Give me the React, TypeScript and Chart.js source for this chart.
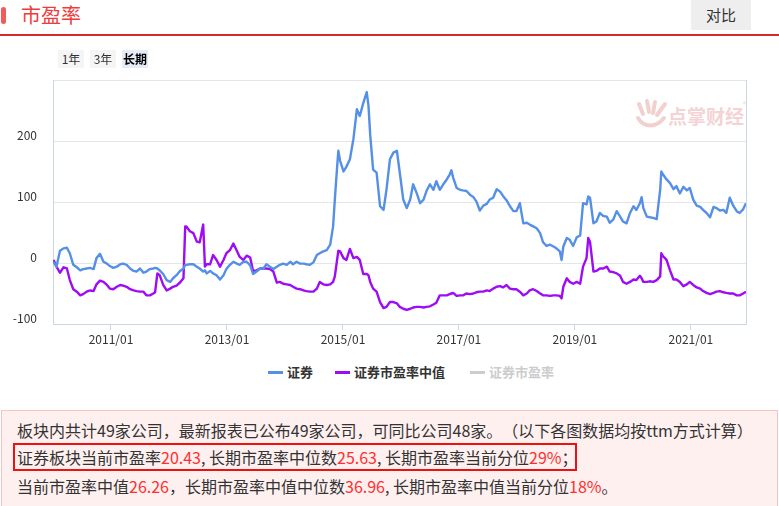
import React, { useEffect, useRef } from 'react';
import { Chart, registerables } from 'chart.js';

Chart.register(...registerables);

// ---- data (decimal years) ----
const dates = [
  2010.01, 2010.06, 2010.12, 2010.18, 2010.24, 2010.29, 2010.35, 2010.41, 2010.47, 2010.52,
  2010.58, 2010.64, 2010.70, 2010.75, 2010.81, 2010.87, 2010.93, 2010.98, 2011.04, 2011.10,
  2011.16, 2011.21, 2011.27, 2011.33, 2011.39, 2011.44, 2011.50, 2011.56, 2011.61, 2011.67,
  2011.73, 2011.76, 2011.80, 2011.84, 2011.90, 2011.96, 2012.02, 2012.07, 2012.13, 2012.19,
  2012.25, 2012.28, 2012.30, 2012.36, 2012.42, 2012.48, 2012.53, 2012.59, 2012.62, 2012.65,
  2012.71, 2012.76, 2012.82, 2012.88, 2012.94, 2012.99, 2013.05, 2013.11, 2013.17, 2013.22,
  2013.28, 2013.34, 2013.40, 2013.45, 2013.51, 2013.57, 2013.63, 2013.68, 2013.74, 2013.80,
  2013.86, 2013.91, 2013.97, 2014.03, 2014.09, 2014.14, 2014.20, 2014.26, 2014.32, 2014.37,
  2014.43, 2014.49, 2014.55, 2014.60, 2014.66, 2014.72, 2014.78, 2014.83, 2014.86, 2014.89,
  2014.92, 2014.95, 2015.01, 2015.06, 2015.12, 2015.18, 2015.24, 2015.29, 2015.35, 2015.41,
  2015.44, 2015.47, 2015.52, 2015.58, 2015.64,
  2015.70, 2015.75, 2015.81, 2015.87, 2015.93, 2015.98, 2016.04, 2016.10, 2016.16, 2016.21,
  2016.27, 2016.33, 2016.39, 2016.44, 2016.50, 2016.56, 2016.61, 2016.67, 2016.73, 2016.79,
  2016.84, 2016.87, 2016.90, 2016.96, 2017.02, 2017.07, 2017.13, 2017.19, 2017.25, 2017.30,
  2017.36, 2017.42, 2017.48, 2017.53, 2017.59, 2017.65, 2017.71, 2017.76, 2017.82, 2017.88,
  2017.94, 2017.99, 2018.05, 2018.11, 2018.17, 2018.22, 2018.28, 2018.34, 2018.40, 2018.45,
  2018.51, 2018.57, 2018.63, 2018.68, 2018.74, 2018.77, 2018.80, 2018.86, 2018.91, 2018.97,
  2019.03, 2019.09, 2019.14, 2019.20, 2019.23, 2019.26, 2019.32, 2019.37, 2019.43, 2019.49,
  2019.55, 2019.60, 2019.66, 2019.72, 2019.78, 2019.83, 2019.89, 2019.95, 2020.01, 2020.06,
  2020.12, 2020.15, 2020.18, 2020.24, 2020.29, 2020.35, 2020.41, 2020.47, 2020.49, 2020.52,
  2020.58, 2020.64, 2020.70, 2020.75, 2020.81, 2020.87, 2020.93, 2020.98, 2021.04, 2021.10,
  2021.16, 2021.21, 2021.27, 2021.33, 2021.39, 2021.44, 2021.50, 2021.56, 2021.61, 2021.67,
  2021.73, 2021.79, 2021.84, 2021.90, 2021.95,
];

// 证券
const securitiesPE = [
  2, -6, 20, 24, 25, 16, -3, -7, -12, -10,
  -9, -8, -10, 8, 15, 2, -1, -5, -8, -6,
  -2, -1, -3, -9, -13, -14, -9, -16, -14, -10,
  -9, -8, -9, -12, -18, -28, -31, -25, -20, -13,
  -9, -3, -3, -2, -2, -6, -9, -14, -12, -17,
  -13, -17, -20, -27, -20, -10, -3, 2, -1, -3,
  2, 2, -4, -18, -14, -9, -9, -2, -6, -10,
  -6, -3, -1, -3, 2, -2, 2, -1, -1, -2,
  -3, 1, 13, 16, 19, 21, 30, 60, 104, 145,
  184, 168, 150, 158, 170, 203, 252, 241, 262, 280,
  258, 210, 153, 148, 93,
  87, 120, 170, 181, 184, 148, 104, 90, 104, 129,
  115, 98, 104, 118, 129, 120, 134, 120, 129, 137,
  145, 152, 140, 123, 120, 119, 118, 112, 108, 101,
  86, 94, 97, 104, 107, 121, 117, 110, 103, 93,
  85, 85, 98, 65, 66, 63, 60, 57, 49, 34,
  28, 30, 27, 24, 19, 5, 27, 41, 38, 28,
  42, 45, 98, 96, 109, 107, 65, 68, 82, 77,
  76, 66, 71, 85, 76, 68, 65, 82, 93, 87,
  98, 108, 90, 76, 75, 74, 72, 120, 150, 145,
  137, 131, 121, 126, 114, 125, 119, 123, 104, 94,
  92, 87, 82, 75, 92, 90, 86, 87, 82, 107,
  94, 85, 82, 88, 98,
];

// 证券市盈率中值
const medianPE = [
  5, -6, -16, -7, -9, -28, -43, -47, -53, -51,
  -47, -45, -46, -35, -29, -31, -36, -42, -43, -39,
  -36, -37, -39, -43, -45, -46, -47, -47, -53, -53,
  -50, -48, -17, -20, -36, -45, -42, -39, -37, -32,
  -25, 60, 60, 52, 49, 35, 34, 63, -6, -2,
  -2, 13, 5, -6, 5, 16, 21, 32, 20, 10,
  5, 12, 9, -13, -12, -9, -9, -9, -10, -14,
  -32, -31, -34, -35, -36, -39, -42, -43, -45, -46,
  -47, -47, -42, -31, -35, -36, -35, -31, -22, -1,
  20, 19, 8, 5, 23, 8, 10, 5, -18, -18,
  -20, -31, -42, -47, -64,
  -74, -72, -64, -64, -66, -72, -75, -77, -75, -73,
  -72, -72, -73, -72, -71, -68, -65, -53, -53, -53,
  -51, -50, -49, -54, -53, -53, -50, -51, -50, -48,
  -47, -47, -45, -46, -42, -39, -38, -40, -36, -42,
  -43, -43, -47, -53, -50, -45, -43, -46, -50, -53,
  -53, -54, -53, -53, -54, -58, -39, -25, -31, -34,
  -31, -34, -6, 8, 41, 35, -14, -13, -9, -9,
  -6, -14, -15, -17, -21, -31, -34, -31, -27, -28,
  -21, -25, -31, -31, -30, -31, -28, -22, 16, 11,
  5, -12, -27, -27, -31, -38, -35, -31, -36, -40,
  -42, -46, -49, -51, -49, -47, -46, -48, -49, -50,
  -50, -53, -53, -50, -47,
];

const xTickYears = [2011, 2013, 2015, 2017, 2019, 2021];
const yTickValues = [-100, 0, 100, 200, 300];
const legendNames = ['证券', '证券市盈率中值', '证券市盈率'];
const legendColors = ['#5590e6', '#9d0cf5', '#cccccc'];
const rangeTabs = ['1年', '3年', '长期'];

const FONT = '"Noto Sans CJK SC", "Noto Sans", sans-serif';

export default function App() {
  const canvasRef = useRef<HTMLCanvasElement | null>(null);

  useEffect(() => {
    document.body.style.margin = '0';
    const canvas = canvasRef.current;
    if (!canvas) return;
    Chart.defaults.font.family = FONT;

    const rightBorder = {
      id: 'rightBorder',
      beforeDatasetsDraw(chart: any) {
        const { ctx, chartArea } = chart;
        ctx.save();
        ctx.strokeStyle = '#ccd6eb';
        ctx.lineWidth = 1;
        ctx.beginPath();
        ctx.moveTo(Math.round(chartArea.right) + 0.5, chartArea.top);
        ctx.lineTo(Math.round(chartArea.right) + 0.5, chartArea.bottom);
        ctx.stroke();
        ctx.restore();
      },
    };

    const chart = new Chart(canvas, {
      type: 'line',
      data: {
        datasets: [
          {
            label: legendNames[0],
            data: dates.map((d, i) => ({ x: d, y: securitiesPE[i] })),
            borderColor: legendColors[0],
            backgroundColor: legendColors[0],
            borderWidth: 2.4,
            borderJoinStyle: 'round',
            pointRadius: 0,
            tension: 0,
          },
          {
            label: legendNames[1],
            data: dates.map((d, i) => ({ x: d, y: medianPE[i] })),
            borderColor: legendColors[1],
            backgroundColor: legendColors[1],
            borderWidth: 2.4,
            borderJoinStyle: 'round',
            pointRadius: 0,
            tension: 0,
          },
        ],
      },
      options: {
        animation: false,
        responsive: false,
        maintainAspectRatio: false,
        layout: { padding: { top: 40, right: 33, left: 0, bottom: 0 } },
        plugins: {
          legend: { display: false },
          tooltip: { enabled: false },
        },
        scales: {
          x: {
            type: 'linear',
            min: 2010,
            max: 2021.95,
            afterBuildTicks: (s: any) => {
              s.ticks = xTickYears.map((v) => ({ value: v }));
            },
            afterFit: (s: any) => {
              s.height = 36;
            },
            grid: { drawOnChartArea: false, color: '#ccd6eb', tickLength: 6 },
            border: { color: '#ccd6eb' },
            ticks: {
              callback: (v: any) => `${v}/01`,
              color: '#333333',
              font: { size: 12 },
              padding: 2,
              maxRotation: 0,
              autoSkip: false,
            },
          },
          y: {
            min: -100,
            max: 300,
            afterBuildTicks: (s: any) => {
              s.ticks = yTickValues.map((v) => ({ value: v }));
            },
            afterFit: (s: any) => {
              s.width = 53;
            },
            grid: { color: '#e6e6e6', drawTicks: false },
            border: { color: '#ccd6eb' },
            ticks: {
              callback: (v: any) => (v === 300 ? '' : String(v)),
              color: '#333333',
              font: { size: 12 },
              padding: 16,
              labelOffset: -6,
            },
          },
        },
      },
      plugins: [rightBorder],
    } as any);

    return () => chart.destroy();
  }, []);

  const abs = (s: React.CSSProperties): React.CSSProperties => ({ position: 'absolute', ...s });
  const red = { color: '#ff2f2f' };
  const infoLine = (top: number): React.CSSProperties =>
    ({
      position: 'absolute',
      left: 17,
      top,
      fontSize: 16,
      lineHeight: '22px',
      whiteSpace: 'nowrap',
      textSpacingTrim: 'space-all',
    } as any);

  return (
    <div
      style={{
        position: 'fixed',
        left: 0,
        top: 0,
        width: 779,
        height: 506,
        overflow: 'hidden',
        background: '#ffffff',
        fontFamily: FONT,
        color: '#333333',
      }}
    >
      {/* header */}
      <div style={abs({ left: 1, top: 7, width: 5, height: 17, background: '#f35b5b', borderRadius: 3 })} />
      <div style={abs({ left: 21, top: 3, height: 24, lineHeight: '24px', fontSize: 20, color: '#ee3c3c' })}>市盈率</div>
      <div
        style={abs({
          left: 691,
          top: 0,
          width: 60,
          height: 30,
          lineHeight: '30px',
          textAlign: 'center',
          fontSize: 15,
          background: '#eeeeee',
          color: '#333333',
        })}
      >
        对比
      </div>
      <div style={abs({ left: 0, top: 34, width: 779, height: 2, background: '#d9272e' })} />

      {/* watermark */}
      <svg style={abs({ left: 634, top: 98, width: 36, height: 32 })} viewBox="0 0 36 32">
        <g fill="none" stroke="#f3d0d0" strokeWidth="4" strokeLinecap="round">
          <path d="M5 6 L9 16" />
          <path d="M13 3 L15 14" />
          <path d="M21 4 L19 15" />
          <path d="M31 6 L23 17" />
          <path d="M4 20 C 10 30, 22 30, 30 20" />
        </g>
      </svg>
      <div
        style={abs({
          left: 668,
          top: 104,
          fontSize: 19,
          fontWeight: 'bold',
          lineHeight: '24px',
          color: '#f3d3d3',
        })}
      >
        点掌财经
      </div>
      <div style={abs({ left: 743, top: 99, fontSize: 7, color: '#f3d3d3' })}>®</div>

      {/* chart */}
      <canvas
        ref={canvasRef}
        width={779}
        height={320}
        style={abs({ left: 0, top: 40, width: 779, height: 320, display: 'block' })}
      />

      {/* range tabs */}
      {rangeTabs.map((t, i) => (
        <div
          key={t}
          style={abs({
            left: 58 + i * 32,
            top: 50,
            width: 26,
            height: 18,
            lineHeight: '18px',
            textAlign: 'center',
            fontSize: 12,
            background: i === 2 ? '#e6ecf7' : '#f5f5f5',
            color: i === 2 ? '#000000' : '#333333',
            fontWeight: i === 2 ? 'bold' : 'normal',
          })}
        >
          {t}
        </div>
      ))}

      {/* legend */}
      {legendNames.map((n, i) => {
        const lineLeft = [268, 335, 470][i];
        return (
          <React.Fragment key={n}>
            <div style={abs({ left: lineLeft, top: 371, width: 15, height: 3, background: legendColors[i] })} />
            <div
              style={abs({
                left: lineLeft + 19,
                top: 362,
                height: 20,
                lineHeight: '20px',
                fontSize: 13,
                fontWeight: 'bold',
                color: i === 2 ? '#cccccc' : '#333333',
                whiteSpace: 'nowrap',
              })}
            >
              {n}
            </div>
          </React.Fragment>
        );
      })}

      {/* info box */}
      <div
        style={abs({
          left: 1,
          top: 410,
          width: 777,
          height: 110,
          background: '#fff0f0',
          border: '1px solid #f7c4c4',
          boxSizing: 'border-box',
        })}
      />
      <div style={abs({ left: 13, top: 443, width: 564, height: 28, border: '2px solid #ee1111', boxSizing: 'border-box' })} />
      <div style={infoLine(419)}>
        板块内共计49家公司，最新报表已公布49家公司，可同比公司48家。（以下各图数据均按ttm方式计算）
      </div>
      <div style={infoLine(446)}>
        证券板块当前市盈率<span style={red}>20.43</span>, 长期市盈率中位数<span style={red}>25.63</span>, 长期市盈率当前分位
        <span style={red}>29%</span>；
      </div>
      <div style={infoLine(475)}>
        当前市盈率中值<span style={red}>26.26</span>，长期市盈率中值中位数<span style={red}>36.96</span>, 长期市盈率中值当前分位
        <span style={red}>18%</span>。
      </div>
    </div>
  );
}
